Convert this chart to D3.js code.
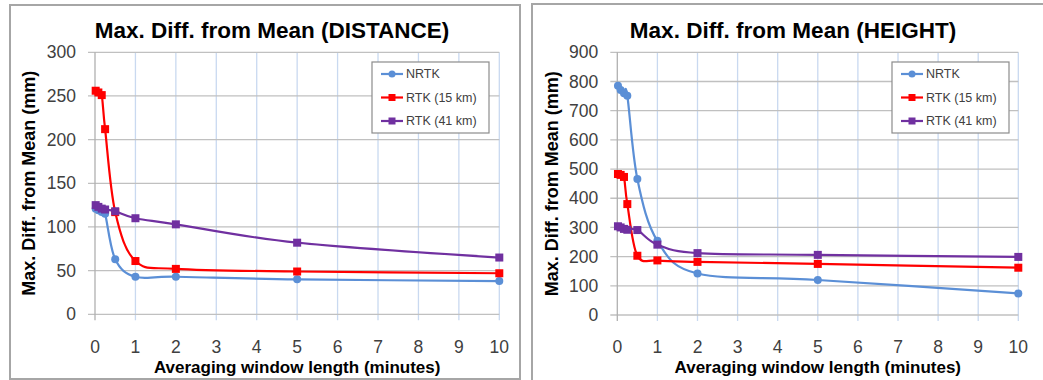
<!DOCTYPE html>
<html>
<head>
<meta charset="utf-8">
<script src="https://cdn.jsdelivr.net/npm/d3@7"></script>
<style>
  body { margin: 0; background: #fff; }
  svg { display: block; }
</style>
</head>
<body>
<svg id="chart" width="1043" height="380"></svg>
<script>
// averaging window lengths (minutes): 1s, 5s, 10s, 15s, 30s, 1, 2, 5, 10 min
var xMinutes = [0.0167, 0.0833, 0.1667, 0.25, 0.5, 1, 2, 5, 10];
var seriesNames = ["NRTK", "RTK (15 km)", "RTK (41 km)"];
var xTicks = [0, 1, 2, 3, 4, 5, 6, 7, 8, 9, 10];

// DISTANCE panel (mm)
var distNrtk  = [121, 119, 117, 115, 63, 43, 43, 40, 38];
var distRtk15 = [256, 254, 251, 212, 117, 61, 52, 49, 47];
var distRtk41 = [125, 123, 121, 120, 118, 110, 103, 82, 65];
var distTicks = [0, 50, 100, 150, 200, 250, 300];

// HEIGHT panel (mm)
var hgtNrtk  = [785, 771, 760, 751, 466, 254, 142, 120, 74];
var hgtRtk15 = [483, 480, 473, 380, 203, 187, 182, 175, 162];
var hgtRtk41 = [304, 300, 295, 292, 291, 241, 212, 206, 199];
var hgtTicks = [0, 100, 200, 300, 400, 500, 600, 700, 800, 900];

var colors = ["#5b8fd6", "#ff0000", "#7030a0"];
var shapes = ["circle", "square", "square"];
var font = "Liberation Sans, Arial, sans-serif";

var svg = d3.select("#chart");

function drawPanel(opt) {
    var g = svg.append("g");

    // panel frame
    g.append("rect")
        .attr("x", opt.frame[0]).attr("y", opt.frame[1])
        .attr("width", opt.frame[2]).attr("height", opt.frame[3])
        .attr("fill", "#fff")
        .attr("stroke", "#a6a6a6")
        .attr("stroke-width", 2);

    var x = d3.scaleLinear().domain([0, 10]).range([opt.left, opt.right]);
    var y = d3.scaleLinear().domain([0, d3.max(opt.yTicks)]).range([opt.bottom, opt.top]);

    // vertical grid (light blue), extending below the axis as tick marks
    g.selectAll(".vgrid").data(xTicks.slice(1)).enter().append("line")
        .attr("x1", function(d) { return x(d); })
        .attr("x2", function(d) { return x(d); })
        .attr("y1", opt.top).attr("y2", opt.bottom + 6)
        .attr("stroke", "#c9d9f0").attr("stroke-width", 1.3);

    // horizontal grid (gray), extending left of the axis as tick marks
    g.selectAll(".hgrid").data(opt.yTicks).enter().append("line")
        .attr("x1", opt.left - 7).attr("x2", opt.right)
        .attr("y1", function(d) { return y(d); })
        .attr("y2", function(d) { return y(d); })
        .attr("stroke", "#c0c0c0").attr("stroke-width", 1.3);

    // y axis line
    g.append("line")
        .attr("x1", x(0)).attr("x2", x(0))
        .attr("y1", opt.top).attr("y2", opt.bottom + 6)
        .attr("stroke", "#b0b0b0").attr("stroke-width", 1.3);

    // tick labels
    g.selectAll(".ylab").data(opt.yTicks).enter().append("text")
        .attr("x", opt.left - 19)
        .attr("y", function(d) { return y(d); })
        .attr("dy", "0.35em")
        .attr("text-anchor", "end")
        .attr("font-family", font)
        .attr("font-size", 17.5)
        .attr("fill", "#404040")
        .text(function(d) { return d; });

    g.selectAll(".xlab").data(xTicks).enter().append("text")
        .attr("x", function(d) { return x(d); })
        .attr("y", 353)
        .attr("text-anchor", "middle")
        .attr("font-family", font)
        .attr("font-size", 17.5)
        .attr("fill", "#404040")
        .text(function(d) { return d; });

    // titles
    g.append("text")
        .attr("x", opt.titleX).attr("y", 38)
        .attr("text-anchor", "middle")
        .attr("font-family", font)
        .attr("font-weight", "bold")
        .attr("font-size", 22.5)
        .attr("fill", "#000")
        .text(opt.title);

    g.append("text")
        .attr("x", (opt.left + opt.right) / 2).attr("y", 373)
        .attr("text-anchor", "middle")
        .attr("font-family", font)
        .attr("font-weight", "bold")
        .attr("font-size", 17)
        .attr("fill", "#000")
        .text("Averaging window length (minutes)");

    g.append("text")
        .attr("transform", "translate(" + opt.yTitleX + "," + ((opt.top + opt.bottom) / 2) + ") rotate(-90)")
        .attr("text-anchor", "middle")
        .attr("font-family", font)
        .attr("font-weight", "bold")
        .attr("font-size", 18)
        .attr("fill", "#000")
        .text("Max. Diff. from Mean (mm)");

    var line = d3.line()
        .x(function(d) { return x(d[0]); })
        .y(function(d) { return y(d[1]); })
        .curve(d3.curveCardinal.tension(0));

    // draw series (last one on top, like Excel)
    opt.series.forEach(function(vals, i) {
        var pts = xMinutes.map(function(v, k) { return [v, vals[k]]; });
        g.append("path")
            .datum(pts)
            .attr("d", line)
            .attr("fill", "none")
            .attr("stroke", colors[i])
            .attr("stroke-width", 2.2);

        if (shapes[i] === "circle") {
            g.selectAll(".m" + i).data(pts).enter().append("circle")
                .attr("cx", function(d) { return x(d[0]); })
                .attr("cy", function(d) { return y(d[1]); })
                .attr("r", 4)
                .attr("fill", colors[i]);
        } else {
            g.selectAll(".m" + i).data(pts).enter().append("rect")
                .attr("x", function(d) { return x(d[0]) - 4; })
                .attr("y", function(d) { return y(d[1]) - 4; })
                .attr("width", 8).attr("height", 8)
                .attr("fill", colors[i]);
        }
    });

    // legend
    var lg = g.append("g").attr("transform", "translate(" + opt.legend[0] + "," + opt.legend[1] + ")");
    lg.append("rect")
        .attr("x", 0).attr("y", 0).attr("width", 117).attr("height", 71)
        .attr("fill", "#fff").attr("stroke", "#8c8c8c").attr("stroke-width", 1.2);
    seriesNames.forEach(function(name, i) {
        var yy = 12 + i * 23.5;
        lg.append("line")
            .attr("x1", 9).attr("x2", 31).attr("y1", yy).attr("y2", yy)
            .attr("stroke", colors[i]).attr("stroke-width", 2.2);
        if (shapes[i] === "circle") {
            lg.append("circle").attr("cx", 20).attr("cy", yy).attr("r", 3.5).attr("fill", colors[i]);
        } else {
            lg.append("rect").attr("x", 16.5).attr("y", yy - 3.5).attr("width", 7).attr("height", 7).attr("fill", colors[i]);
        }
        lg.append("text")
            .attr("x", 34).attr("y", yy).attr("dy", "0.35em")
            .attr("font-family", font)
            .attr("font-size", 12.5)
            .attr("fill", "#404040")
            .text(name);
    });
}

drawPanel({
    frame: [10, 5, 510, 374],
    left: 95, right: 499.3, top: 52.3, bottom: 314.3,
    yTicks: distTicks,
    series: [distNrtk, distRtk15, distRtk41],
    title: "Max. Diff. from Mean (DISTANCE)",
    titleX: 272,
    yTitleX: 34.5,
    legend: [372, 62]
});

drawPanel({
    frame: [532, 4, 520, 380],
    left: 617.3, right: 1018.3, top: 52.3, bottom: 315,
    yTicks: hgtTicks,
    series: [hgtNrtk, hgtRtk15, hgtRtk41],
    title: "Max. Diff. from Mean (HEIGHT)",
    titleX: 793,
    yTitleX: 557.5,
    legend: [892, 62]
});
</script>
</body>
</html>
